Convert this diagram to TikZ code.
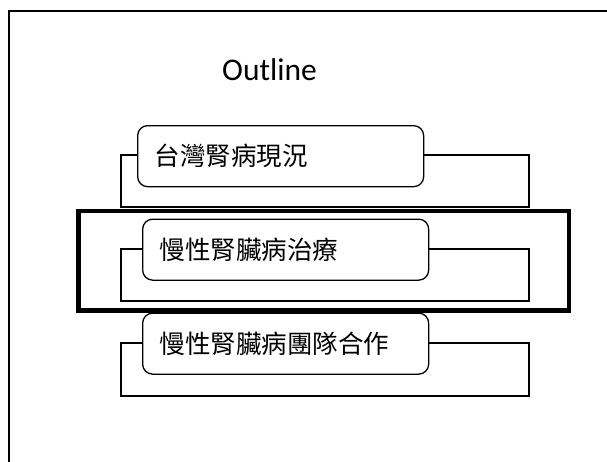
\documentclass[tikz,border=0pt]{standalone}
\usepackage{fontspec}
\setmainfont{Carlito}
\newfontfamily\cjk{Noto Sans CJK TC}
\begin{document}
\begin{tikzpicture}[x=1pt,y=-1pt,
  frameline/.style={line width=2.2pt},
  bracket/.style={draw,line width=1.3pt},
  itembox/.style={draw,fill=white,line width=1.3pt,rounded corners=10pt,
    anchor=north west,minimum height=61pt,inner xsep=17pt,inner ysep=0pt,
    text width=252pt,align=left,font=\cjk\fontsize{25.5}{26}\selectfont},
  focus/.style={draw,line width=4.5pt},
  title/.style={font=\fontsize{31.5}{32}\selectfont,anchor=base}]
  \useasboundingbox (0,0) rectangle (607,461);
  \fill[white] (0,0) rectangle (607,461);
  % slide frame (only the left and top edges are in view)
  \draw[frameline] (9.3,462) -- (9.3,11.3) -- (608,11.3);
  \node[title] (title) at (269.5,80.5) {Outline};
  % item brackets
  \draw[bracket] (121,155) rectangle (529,207);
  \draw[bracket] (121,249) rectangle (529,301);
  \draw[bracket] (121,343) rectangle (529,396);
  % item boxes
  \node[itembox] (item1) at (137,125) {台灣腎病現況};
  \node[itembox] (item2) at (142,218.5) {慢性腎臟病治療};
  \node[itembox] (item3) at (142,312.5) {慢性腎臟病團隊合作};
  % highlight of the current item
  \draw[focus] (78.4,211) rectangle (569,310.5);
\end{tikzpicture}
\end{document}
